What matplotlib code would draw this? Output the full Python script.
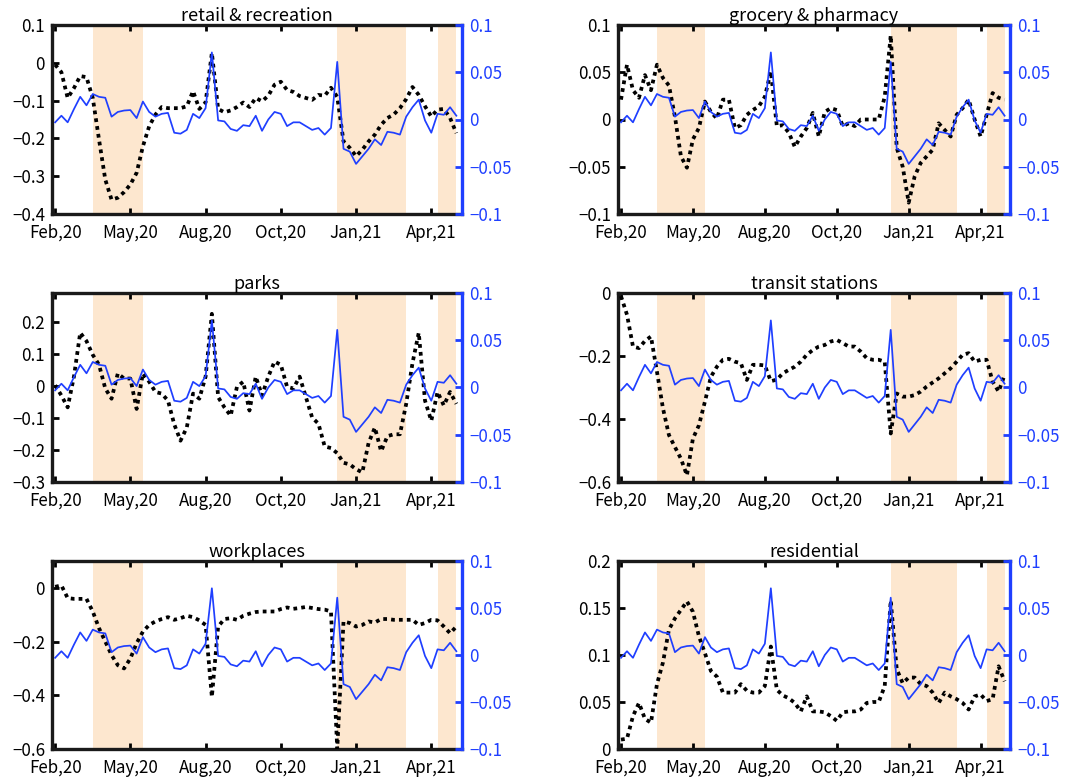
import matplotlib
matplotlib.use("Agg")
import matplotlib.pyplot as plt
from matplotlib.ticker import FuncFormatter

plt.rcParams['font.family'] = ['Noto Sans CJK JP', 'DejaVu Sans']
plt.rcParams['axes.unicode_minus'] = True

# tick labels on the shared time axis (one point per week-ish step)
tick_pos = [0, 12, 24, 36, 48, 60]
tick_labels = ['Feb,20', 'May,20', 'Aug,20', 'Oct,20', 'Jan,21', 'Apr,21']

# shaded periods (start, end) in point index
shade_periods = [(6, 14), (45, 56), (61, 64)]

# blue series (right axis), same in every panel
blue = [-0.003, 0.004, -0.003, 0.011, 0.024, 0.015, 0.027, 0.024, 0.023, 0.003,
        0.008, 0.0095, 0.010, 0.0015, 0.019, 0.008, 0.003, 0.006, 0.007, -0.014,
        -0.015, -0.011, 0.006, 0.0015, 0.012, 0.071, -0.001, -0.002, -0.010, -0.012,
        -0.006, -0.007, 0.004, -0.012, 0.000, 0.008, 0.006, -0.007, -0.003, -0.003,
        -0.007, -0.011, -0.009, -0.016, -0.009, 0.061, -0.031, -0.034, -0.047, -0.039,
        -0.031, -0.021, -0.027, -0.013, -0.014, -0.016, 0.003, 0.013, 0.021, -0.001,
        -0.014, 0.006, 0.005, 0.013, 0.004]

retail = [-0.005, -0.025, -0.093, -0.067, -0.035, -0.038, -0.093, -0.203, -0.309, -0.362,
          -0.357, -0.342, -0.322, -0.291, -0.221, -0.168, -0.137, -0.117, -0.12, -0.12,
          -0.12, -0.115, -0.075, -0.122, -0.105, 0.026, -0.122, -0.131, -0.126, -0.117,
          -0.105, -0.117, -0.093, -0.102, -0.087, -0.058, -0.050, -0.072, -0.077, -0.088,
          -0.093, -0.098, -0.085, -0.087, -0.066, -0.09, -0.208, -0.225, -0.247, -0.23,
          -0.208, -0.19, -0.164, -0.146, -0.137, -0.12, -0.096, -0.064, -0.085, -0.115,
          -0.142, -0.124, -0.122, -0.146, -0.186]

grocery = [0.021, 0.058, 0.031, 0.023, 0.047, 0.031, 0.058, 0.044, 0.036, 0.003,
           -0.039, -0.051, -0.021, -0.009, 0.019, 0.008, 0.001, 0.021, 0.021, -0.009,
           -0.006, 0.005, 0.010, 0.014, 0.024, 0.051, -0.007, -0.006, -0.014, -0.029,
           -0.018, -0.009, 0.007, -0.018, 0.008, 0.012, 0.010, -0.007, -0.004, -0.007,
           0.000, 0.000, 0.000, 0.000, 0.024, 0.089, -0.030, -0.050, -0.088, -0.060,
           -0.046, -0.039, -0.032, -0.004, -0.011, -0.018, 0.005, 0.012, 0.021, 0.000,
           -0.018, 0.005, 0.028, 0.023, 0.021]

parks = [0.002, -0.030, -0.067, 0.029, 0.166, 0.140, 0.097, 0.066, -0.008, -0.040,
         0.039, 0.023, 0.023, -0.072, 0.039, 0.013, -0.019, -0.024, -0.046, -0.120,
         -0.171, -0.130, -0.024, -0.040, 0.029, 0.225, -0.035, -0.067, -0.093, -0.003,
         0.013, -0.077, 0.029, -0.030, 0.029, 0.076, 0.066, -0.003, -0.008, 0.029,
         -0.035, -0.099, -0.118, -0.189, -0.194, -0.210, -0.240, -0.245, -0.260, -0.270,
         -0.178, -0.130, -0.204, -0.157, -0.151, -0.151, -0.056, 0.071, 0.166, -0.046,
         -0.109, -0.019, -0.061, -0.019, -0.056]

transit = [-0.01, -0.069, -0.170, -0.175, -0.152, -0.138, -0.250, -0.366, -0.451, -0.489,
           -0.526, -0.579, -0.462, -0.420, -0.345, -0.266, -0.234, -0.212, -0.209, -0.218,
           -0.223, -0.276, -0.228, -0.228, -0.230, -0.280, -0.275, -0.255, -0.244, -0.234,
           -0.218, -0.196, -0.181, -0.170, -0.165, -0.154, -0.149, -0.159, -0.170, -0.170,
           -0.186, -0.207, -0.212, -0.212, -0.218, -0.446, -0.319, -0.329, -0.329, -0.324,
           -0.313, -0.297, -0.284, -0.271, -0.255, -0.239, -0.218, -0.196, -0.191, -0.218,
           -0.212, -0.212, -0.281, -0.313, -0.260]

workplaces = [0.004, 0.009, -0.038, -0.041, -0.041, -0.041, -0.088, -0.150, -0.200, -0.250,
              -0.288, -0.300, -0.263, -0.206, -0.163, -0.138, -0.125, -0.116, -0.109, -0.119,
              -0.113, -0.104, -0.109, -0.121, -0.138, -0.406, -0.144, -0.116, -0.113, -0.119,
              -0.104, -0.096, -0.090, -0.088, -0.088, -0.088, -0.079, -0.073, -0.078, -0.075,
              -0.071, -0.075, -0.079, -0.081, -0.088, -0.600, -0.125, -0.131, -0.144, -0.138,
              -0.125, -0.129, -0.116, -0.116, -0.119, -0.119, -0.119, -0.119, -0.138, -0.131,
              -0.119, -0.121, -0.144, -0.169, -0.144]

residential = [0.010, 0.011, 0.035, 0.049, 0.032, 0.028, 0.069, 0.092, 0.127, 0.139,
               0.148, 0.157, 0.146, 0.120, 0.102, 0.083, 0.077, 0.060, 0.060, 0.060,
               0.069, 0.062, 0.060, 0.060, 0.067, 0.109, 0.063, 0.057, 0.054, 0.049,
               0.040, 0.056, 0.040, 0.040, 0.039, 0.035, 0.030, 0.039, 0.040, 0.040,
               0.042, 0.049, 0.050, 0.050, 0.067, 0.158, 0.085, 0.070, 0.076, 0.076,
               0.069, 0.067, 0.060, 0.049, 0.060, 0.056, 0.053, 0.049, 0.042, 0.056,
               0.058, 0.051, 0.053, 0.088, 0.072]

titles = ['retail & recreation', 'grocery & pharmacy', 'parks',
          'transit stations', 'workplaces', 'residential']
series = [retail, grocery, parks, transit, workplaces, residential]
ylims = [(-0.4, 0.1), (-0.1, 0.1), (-0.3, 0.29), (-0.6, 0.0), (-0.6, 0.1), (0.0, 0.2)]
yticks = [[-0.4, -0.3, -0.2, -0.1, 0, 0.1],
          [-0.1, -0.05, 0, 0.05, 0.1],
          [-0.3, -0.2, -0.1, 0, 0.1, 0.2],
          [-0.6, -0.4, -0.2, 0],
          [-0.6, -0.4, -0.2, 0],
          [0, 0.05, 0.1, 0.15, 0.2]]
right_ticks = [-0.1, -0.05, 0, 0.05, 0.1]

BLUE = '#1f3fff'
SHADE = '#fde7cf'
W, H = 1083, 782


def fmt(v, pos=None):
    s = '%g' % round(v, 4)
    return s.replace('-', '\u2212')


fig = plt.figure(figsize=(W / 100, H / 100), dpi=100)

# axes boxes in pixels: (left, right, top, bottom)
cols = [(52, 462), (618, 1010)]
rows = [(25, 214), (293, 482), (561, 749)]

x = list(range(len(blue)))
for k in range(6):
    r, c = divmod(k, 2)
    l, rr = cols[c]
    t, b = rows[r]
    ax = fig.add_axes([l / W, 1 - b / H, (rr - l) / W, (b - t) / H])
    for s0, s1 in shade_periods:
        ax.axvspan(s0, s1, color=SHADE, lw=0, zorder=0)
    ax.plot(x, series[k], color='black', lw=2.7, linestyle=(0, (1, 1.1)), zorder=3)
    ax.set_xlim(-0.5, 64.9)
    ax.set_ylim(*ylims[k])
    ax.set_yticks(yticks[k])
    ax.yaxis.set_major_formatter(FuncFormatter(fmt))
    ax.set_xticks(tick_pos)
    ax.set_xticklabels(tick_labels)
    ax.tick_params(axis='x', direction='in', length=4, width=2, top=True, labelsize=12.2, pad=7)
    ax.tick_params(axis='y', direction='in', length=5, width=2, labelsize=12.2, pad=5)
    for side in ['left', 'top', 'bottom']:
        ax.spines[side].set_linewidth(2.4)
        ax.spines[side].set_color('#1a1a1a')
    ax.spines['right'].set_visible(False)
    ax.set_title(titles[k], fontsize=13, pad=2)

    ax2 = ax.twinx()
    ax2.plot(x, blue, color=BLUE, lw=1.25, zorder=4)
    ax2.set_ylim(-0.1, 0.1)
    ax2.set_yticks(right_ticks)
    ax2.yaxis.set_major_formatter(FuncFormatter(fmt))
    ax2.tick_params(axis='y', direction='in', length=5, width=2, colors=BLUE,
                    labelsize=12.2, pad=5)
    ax2.spines['right'].set_color(BLUE)
    ax2.spines['right'].set_linewidth(2.4)
    for side in ['left', 'top', 'bottom']:
        ax2.spines[side].set_visible(False)

fig.savefig('out.png', dpi=100, facecolor='white')
